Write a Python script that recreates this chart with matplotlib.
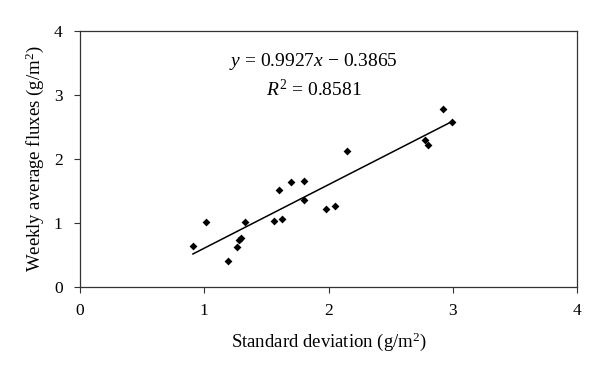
import matplotlib
matplotlib.use("Agg")
import matplotlib.pyplot as plt
import numpy as np

plt.rcParams['font.family'] = ['Liberation Serif', 'DejaVu Serif']
plt.rcParams['mathtext.fontset'] = 'custom'
plt.rcParams['mathtext.rm'] = 'Liberation Serif'
plt.rcParams['mathtext.it'] = 'Liberation Serif:italic'

std_dev = [0.909, 1.014, 1.193, 1.260, 1.276, 1.297, 1.328, 1.562, 1.599, 1.627,
           1.695, 1.806, 1.803, 1.978, 2.049, 2.145, 2.773, 2.804, 2.924, 2.992]
weekly_flux = [0.647, 1.012, 0.412, 0.626, 0.741, 0.767, 1.017, 1.033, 1.518, 1.064,
               1.638, 1.653, 1.356, 1.215, 1.267, 2.123, 2.289, 2.216, 2.785, 2.576]
slope = 0.9927
intercept = -0.3865
r2 = 0.8581
ticks = [0, 1, 2, 3, 4]

fig = plt.figure(figsize=(6.0, 3.72), dpi=100)
ax = fig.add_axes([0.1333, 0.2285, 0.8284, 0.6882])

ax.scatter(std_dev, weekly_flux, marker='D', s=16, color='black', zorder=3, linewidths=0)
xs = np.array([min(std_dev), max(std_dev)])
ax.plot(xs, slope * xs + intercept, color='black', lw=1.1)

ax.set_xlim(0, 4)
ax.set_ylim(0, 4)
ax.set_xticks(ticks)
ax.set_yticks(ticks)
ax.tick_params(direction='out', length=4.5, width=0.8, labelsize=12.5, color='#333333')
ax.tick_params(axis='x', pad=7)
ax.tick_params(axis='y', pad=8)
for s in ax.spines.values():
    s.set_color('#333333')
    s.set_linewidth(0.9)

ax.text(1.88, 3.52, f'$y$ = {slope}$x$ \u2212 {abs(intercept)}', ha='center', va='center', fontsize=14)
ax.text(1.88, 3.08, f'$R^2$ = {r2}', ha='center', va='center', fontsize=14)

ax.set_xlabel('Standard deviation (g/m$^2$)', fontsize=13.5, labelpad=8)
ax.set_ylabel('Weekly average fluxes (g/m$^2$)', fontsize=13.5, labelpad=6)

fig.savefig('out.png', dpi=100)
